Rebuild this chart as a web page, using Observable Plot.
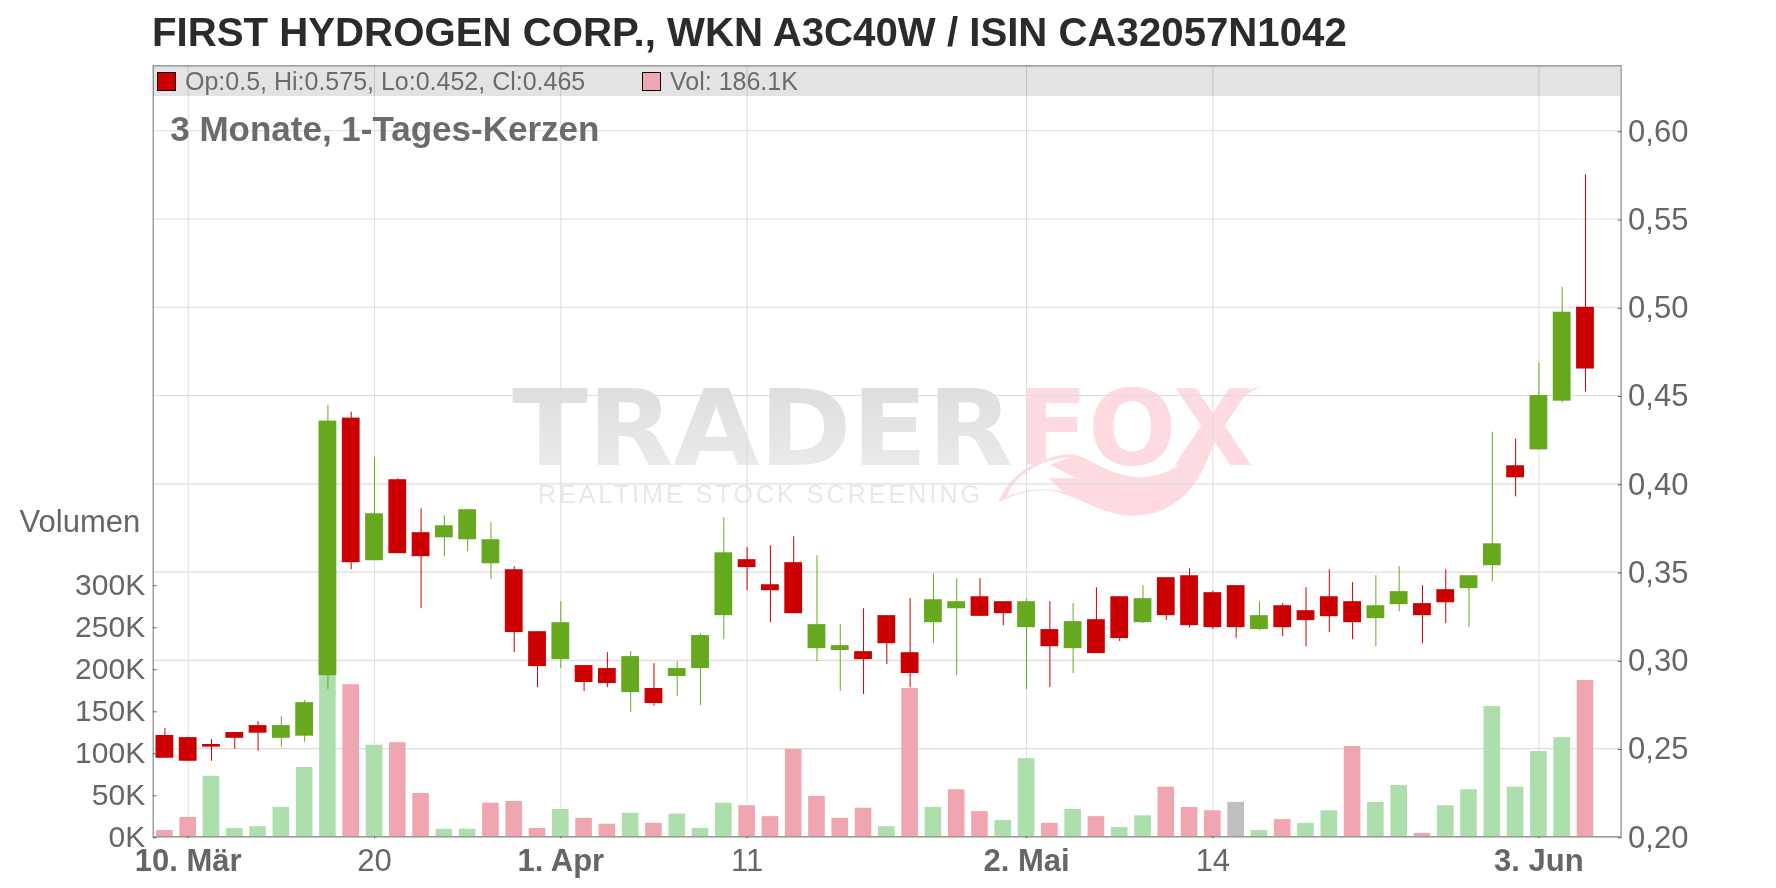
<!DOCTYPE html>
<html lang="de">
<head>
<meta charset="utf-8">
<script src="https://cdn.jsdelivr.net/npm/d3@7"></script>
<script src="https://cdn.jsdelivr.net/npm/@observablehq/plot@0.6"></script>
<style>
html,body{margin:0;padding:0;background:#fff;width:1776px;height:888px;overflow:hidden;font-family:"Liberation Sans",Arial,sans-serif}
#title{position:absolute;left:152px;top:11px;font-size:40.2px;font-weight:700;color:#2b2b2b;white-space:nowrap;line-height:44px}
#chart{position:absolute;left:0;top:60px;z-index:1}
#chart svg{background:transparent;display:block}
#wm{position:absolute;left:0;top:0;z-index:0}
#band{position:absolute;left:153px;top:66px;width:1467px;height:30px;background:#e3e3e3;mix-blend-mode:multiply;z-index:2}
#legend{position:absolute;left:153px;top:66px;width:1467px;height:30px;z-index:3;font-size:25px;color:#6b6b6b;line-height:30px}
#legend i{position:absolute;top:6px;width:17px;height:17px;border:1px solid #000}
#legend span{position:absolute;top:0;white-space:nowrap}
</style>
</head>
<body>
<svg id="wm" width="1776" height="888" viewBox="0 0 1776 888" font-family="DejaVu Sans, Liberation Sans, sans-serif" font-weight="700">
  <defs><linearGradient id="wg" x1="0" y1="0" x2="0" y2="1"><stop offset="0" stop-color="#dbdbdb"/><stop offset="1" stop-color="#eeeeee"/></linearGradient></defs>
  <text x="512" y="465" font-size="105" textLength="501" lengthAdjust="spacingAndGlyphs" fill="url(#wg)">TRADER</text>
  <text x="1017" y="465" font-size="105" textLength="236" lengthAdjust="spacingAndGlyphs" fill="#fddbe0">FOX</text>
  <text x="538" y="503" font-family="Liberation Sans, sans-serif" font-size="25" font-weight="400" textLength="442" fill="#e8e8e8">REALTIME STOCK SCREENING</text>
  <g transform="translate(980 370) scale(.33333)">
    <path fill="#fddbe0" d="M55 398C80 330 150 262 270 252C330 258 370 312 470 322C560 325 640 270 690 180C720 120 780 60 845 48C790 70 750 120 730 160L690 250C660 330 600 435 460 437C380 437 320 395 240 368C180 350 110 368 55 398Z"/>
    <path fill="#fff" d="M80 380C100 330 160 270 270 262L210 285L290 325L205 325L250 365C190 350 130 360 80 380Z"/>
  </g>
</svg>
<div id="title">FIRST HYDROGEN CORP., WKN A3C40W / ISIN CA32057N1042</div>
<div id="chart"></div>
<div id="band"></div>
<div id="legend">
  <i style="left:4px;background:#cc0000"></i><span style="left:32px">Op:0.5, Hi:0.575, Lo:0.452, Cl:0.465</span>
  <i style="left:489px;background:#f0a6b0"></i><span style="left:517px">Vol: 186.1K</span>
</div>
<script>
const open_ = [.2574,.2562,.2523,.2591,.263,.2558,.257,.2913,.4372,.3564,.4023,.3723,.3694,.3683,.3547,.3513,.3162,.3004,.297,.2953,.2817,.284,.2908,.2953,.3253,.357,.3428,.3553,.3066,.3055,.3049,.3253,
  .3043,.3213,.3292,.336,.3332,.3185,.3174,.3066,.323,.336,.3213,.3468,.3479,.3383,.3423,.3174,.3309,.3281,.336,.3332,.3236,.3315,.3321,.34,.3406,.3536,.4102,.4192,.4468,.5];
const close_ = [.2445,.2428,.2508,.2558,.2587,.263,.276,.4355,.3553,.383,.3604,.3587,.3762,.3853,.3683,.3157,.2964,.3213,.2874,.2868,.3021,.2755,.2953,.314,.3609,.3525,.3394,.3264,.3202,.3083,.3004,.3094,
  .2925,.3343,.3332,.3249,.3264,.3332,.3077,.3219,.3038,.3123,.3349,.3253,.3196,.3185,.3185,.3253,.3185,.3225,.3247,.3213,.3309,.3389,.3253,.3326,.3479,.366,.4034,.45,.4972,.465];
const high_ = [.2613,.2562,.2551,.2591,.2653,.2681,.2772,.4445,.4406,.4147,.4028,.3858,.3819,.3853,.3779,.353,.3162,.3332,.297,.3043,.3049,.2981,.2992,.3151,.3808,.3638,.3649,.37,.3592,.3202,.3292,.3253,
  .3349,.3491,.3462,.3462,.3332,.3349,.3332,.3321,.3411,.336,.3423,.3468,.3519,.3392,.3423,.3332,.3321,.3411,.3513,.344,.3479,.353,.3423,.3513,.3479,.4292,.4253,.4683,.5113,.575];
const low_ = [.2445,.2428,.2428,.2496,.2485,.2508,.2536,.2834,.3513,.3564,.3604,.3292,.3587,.3615,.3457,.3043,.2845,.2953,.2823,.2845,.2704,.274,.2794,.2743,.3117,.3394,.3213,.3264,.2992,.2823,.2806,.2975,
  .2845,.3094,.2913,.3249,.3196,.2834,.2845,.2925,.3038,.3106,.3208,.3225,.3185,.3174,.3123,.3168,.3134,.3077,.3157,.3117,.3077,.3275,.3094,.3208,.3185,.3445,.3926,.4192,.4457,.452];
const volumeK = [7.5,23,72,10,12,35,82.5,195,181,109,112,51.5,9,9,40,42,10,32.5,22,15,28,16,27,10,40,37,24,104,48,22,34,12,
  176.6,35,56,30,19.5,93,16,32.5,24,11,25,59,35,31,41,7.5,20.5,16,31,107.5,41,61,4,37,56,155,59,101.5,118,186.1];
const volumeDirection = ["d","d","u","u","u","u","u","u","d","u","d","d","u","u","d","d","d","u","d","d","u","d","u","u","u","d","d","d","d","d","d","u",
  "d","u","d","d","u","u","d","u","d","u","u","d","d","d","f","u","d","u","u","d","u","u","d","u","u","u","u","u","u","d"];

const priceTicks = [.20,.25,.30,.35,.40,.45,.50,.55,.60];
const volumeTicksK = [0,50,100,150,200,250,300];
const majorTicks = [1,17,37,59];
const majorLabels = ["10. Mär","1. Apr","2. Mai","3. Jun"];
const minorTicks = [9,25,45];
const minorLabels = ["20","11","14"];

const colours = {up:"#66a91f",down:"#cc0000"};
const volumeColours = {u:"#addfad",d:"#f0a6b0",f:"#c0c0c0"};
const fontAxis = 31;
// The volume pane shares the price scale: 100K spans the same height as 0.0476 of price.
const priceBase = .20, pricePerK = .000476;
const volY = k => priceBase + k * pricePerK;

const rows = open_.map((o,i)=>({i,o,c:close_[i],h:high_[i],l:low_[i],v:volumeK[i],up:close_[i]>=o,vd:volumeDirection[i]}));
const xDomain = [-0.503,62.53], yDomain = [.20,.6368];
const halfBody = .382, halfVol = .357;
const axisColour = "#666";

const plot = Plot.plot({
  width:1776,height:828,marginLeft:152.7,marginRight:155.4,marginTop:5.3,marginBottom:51.7,
  style:{background:"transparent",fontFamily:"Liberation Sans, Arial, sans-serif",color:axisColour,overflow:"visible"},
  x:{type:"linear",domain:xDomain},
  y:{type:"linear",domain:yDomain},
  marks:[
    Plot.gridX([...majorTicks,...minorTicks],{stroke:"#ddd",strokeOpacity:1,strokeWidth:1}),
    Plot.gridY(priceTicks,{stroke:"#ddd",strokeOpacity:1,strokeWidth:1.2}),
    Plot.rect(rows,{x1:d=>d.i-halfVol,x2:d=>d.i+halfVol,y1:priceBase,y2:d=>volY(d.v),fill:d=>volumeColours[d.vd]}),
    Plot.ruleX(rows,{x:"i",y1:"l",y2:"h",stroke:d=>d.up?colours.up:colours.down,strokeWidth:1}),
    Plot.rect(rows,{x1:d=>d.i-halfBody,x2:d=>d.i+halfBody,y1:"o",y2:"c",fill:d=>d.up?colours.up:colours.down}),
    Plot.frame({stroke:"#888",strokeWidth:1.2}),
    Plot.axisY({anchor:"right",ticks:priceTicks,tickSize:-4,tickPadding:11,fontSize:fontAxis,label:null,dy:1,
      tickFormat:d=>d3.format(".2f")(d).replace(".",","),color:axisColour,stroke:"#666"}),
    Plot.axisY({anchor:"left",ticks:volumeTicksK.map(volY),tickSize:-4,tickPadding:12,fontSize:30,label:null,dy:1,
      tickFormat:d=>Math.round((d-priceBase)/pricePerK)+"K",color:axisColour,stroke:"#666"}),
    Plot.axisX({anchor:"bottom",ticks:majorTicks,tickSize:2,tickPadding:10,fontSize:fontAxis,fontWeight:700,label:null,
      tickFormat:d=>majorLabels[majorTicks.indexOf(d)],color:axisColour,stroke:"#666"}),
    Plot.axisX({anchor:"bottom",ticks:minorTicks,tickSize:2,tickPadding:10,fontSize:fontAxis,label:null,
      tickFormat:d=>minorLabels[minorTicks.indexOf(d)],color:axisColour,stroke:"#666"}),
    Plot.text(["Volumen"],{x:xDomain[0],y:volY(375),textAnchor:"end",dx:-13,fontSize:31,fill:axisColour}),
    Plot.text(["3 Monate, 1-Tages-Kerzen"],{frameAnchor:"top-left",dx:17,dy:64,fontSize:35,fontWeight:700,fill:"#6b6b6b",lineAnchor:"middle"})
  ]
});
document.getElementById("chart").appendChild(plot);
</script>
</body>
</html>
